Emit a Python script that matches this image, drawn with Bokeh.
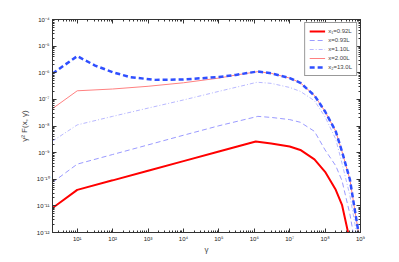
from bokeh.plotting import figure
from bokeh.models import (LogAxis, FixedTicker, CustomJSTickFormatter, Legend, LegendItem, Range1d)
from bokeh.embed import file_html
from bokeh.resources import INLINE

# ---- data ----
g_x1 = [2, 10, 1e2, 1e3, 1e4, 1e5, 1.1e6, 3e6, 1e7, 2e7, 5e7, 1e8, 2e8, 3e8, 5e8]
f_x1 = [8.3e-12, 4.0e-11, 9.1e-11, 2.1e-10, 4.8e-10, 1.1e-9, 2.6e-9, 2.2e-9, 1.7e-9,
        1.26e-9, 5.6e-10, 1.9e-10, 4.0e-11, 1.1e-11, 5e-13]

g_093 = [2, 10, 1e2, 1e3, 1e4, 1e5, 1.26e6, 3e6, 1e7, 2e7, 5e7, 1e8, 2e8, 3e8, 5e8, 6.6e8]
f_093 = [7.6e-11, 3.7e-10, 8.5e-10, 1.95e-9, 4.5e-9, 1.02e-8, 2.3e-8, 2.1e-8, 1.74e-8,
         1.38e-8, 6.3e-9, 1.26e-9, 3.2e-10, 8.9e-11, 5e-12, 6.3e-13]

g_110 = [2, 10, 1e2, 1e3, 1e4, 1e5, 1.2e6, 3e6, 1e7, 2e7, 5e7, 1e8, 2e8, 3e8, 5e8, 7e8, 8.5e8]
f_110 = [2.7e-9, 1.1e-8, 2.3e-8, 4.7e-8, 9.5e-8, 2.0e-7, 4.4e-7, 4.0e-7, 2.8e-7,
         2.0e-7, 8.9e-8, 2.2e-8, 3.2e-9, 4.0e-10, 2.5e-11, 2.0e-12, 5e-13]

g_200 = [2, 10, 1e2, 1e3, 1e4, 1e5, 3e5, 1.26e6, 3e6, 1e7, 2e7, 5e7, 1e8, 2e8, 3e8, 5e8, 7e8, 9.3e8]
f_200 = [4.5e-8, 2.1e-7, 2.45e-7, 3.1e-7, 4.2e-7, 6.3e-7, 8.2e-7, 1.1e-6, 9.5e-7, 6.3e-7,
         4.2e-7, 1.4e-7, 3.5e-8, 6.3e-9, 1.1e-9, 1.0e-10, 6.3e-12, 6.3e-13]

g_x2 = [2, 10, 32, 1e2, 3.2e2, 1.6e3, 1e4, 1e5, 3e5, 1.26e6, 3e6, 1e7, 2e7, 5e7, 1e8, 2e8, 3e8, 5e8, 7e8, 9.3e8]
f_x2 = [9.3e-7, 4.2e-6, 1.86e-6, 1.05e-6, 6.8e-7, 5.4e-7, 5.6e-7, 6.9e-7, 8.3e-7, 1.12e-6,
        9.5e-7, 6.3e-7, 4.2e-7, 1.4e-7, 3.5e-8, 6.3e-9, 1.1e-9, 1.0e-10, 6.3e-12, 6.3e-13]

labels = ["x\u2081=0.92L", "x=0.93L", "x=1.10L", "x=2.00L", "x\u2082=13.0L"]
x_ticks = [1e1, 1e2, 1e3, 1e4, 1e5, 1e6, 1e7, 1e8, 1e9]
y_ticks = [1e-12, 1e-11, 1e-10, 1e-9, 1e-8, 1e-7, 1e-6, 1e-5, 1e-4]

FONT = "Liberation Sans"
AX = "#333333"

x_minor = [m * 10.0 ** e for e in range(0, 9) for m in range(2, 10) if m * 10.0 ** e >= 2]
y_minor = [m * 10.0 ** e for e in range(-12, -4) for m in range(2, 10)]

p = figure(x_axis_type="log", y_axis_type="log",
           x_range=Range1d(2, 1e9), y_range=Range1d(1e-12, 1e-4),
           frame_width=308, frame_height=213,
           min_border_left=52, min_border_top=19, min_border_right=20, min_border_bottom=22,
           output_backend="svg", toolbar_location=None)
p.xgrid.visible = False
p.ygrid.visible = False
p.outline_line_color = AX
p.background_fill_color = "white"

sup = CustomJSTickFormatter(code="""
const s = {'-':'\u207b','0':'\u2070','1':'\u00b9','2':'\u00b2','3':'\u00b3','4':'\u2074','5':'\u2075','6':'\u2076','7':'\u2077','8':'\u2078','9':'\u2079'};
const e = Math.round(Math.log10(tick));
return '10' + String(e).split('').map(c => s[c]).join('');
""")
blank = CustomJSTickFormatter(code="return '';")

def style(ax, ticks, minor, labelled):
    ax.ticker = FixedTicker(ticks=ticks, minor_ticks=minor)
    ax.major_tick_in = 4
    ax.major_tick_out = 0
    ax.minor_tick_in = 2
    ax.minor_tick_out = 0
    ax.axis_line_color = AX
    ax.major_tick_line_color = AX
    ax.minor_tick_line_color = AX
    ax.major_label_text_font = FONT
    ax.major_label_text_font_size = "6px"
    ax.major_label_text_color = "#222222"
    ax.major_label_standoff = 3
    ax.formatter = sup if labelled else blank

style(p.xaxis[0], x_ticks, x_minor, True)
style(p.yaxis[0], y_ticks, y_minor, True)
p.xaxis[0].axis_label = "\u03b3"
p.yaxis[0].axis_label = "\u03b3\u00b2 F(x, \u03b3)"
for ax in (p.xaxis[0], p.yaxis[0]):
    ax.axis_label_text_font = FONT
    ax.axis_label_text_font_size = "8px"
    ax.axis_label_text_font_style = "normal"
p.xaxis[0].axis_label_standoff = 0
p.yaxis[0].axis_label_standoff = 5

top = LogAxis()
right = LogAxis()
style(top, x_ticks, x_minor, False)
style(right, y_ticks, y_minor, False)
top.major_label_text_font_size = "0px"
right.major_label_text_font_size = "0px"
p.add_layout(top, "above")
p.add_layout(right, "right")

r1 = p.line(g_x1, f_x1, line_color="#ff0000", line_width=2)
r2 = p.line(g_093, f_093, line_color="#9a9aff", line_width=1, line_dash="5 3")
r3 = p.line(g_110, f_110, line_color="#b8b8ff", line_width=1, line_dash="4 2 1 2")
r4 = p.line(g_200, f_200, line_color="#ff8080", line_width=1)
r5 = p.line(g_x2, f_x2, line_color="#2f4fff", line_width=2.5, line_dash="5 3")

legend = Legend(items=[LegendItem(label=l, renderers=[r]) for l, r in zip(labels, [r1, r2, r3, r4, r5])],
                location="top_right")
legend.label_text_font = FONT
legend.label_text_font_size = "6px"
legend.label_height = 6
legend.glyph_height = 8
legend.glyph_width = 16
legend.spacing = 1
legend.padding = 4
legend.margin = 3
legend.label_standoff = 3
legend.border_line_color = AX
legend.border_line_width = 1
legend.background_fill_alpha = 1
p.add_layout(legend)

open("out.html", "w").write(file_html(p, INLINE))
